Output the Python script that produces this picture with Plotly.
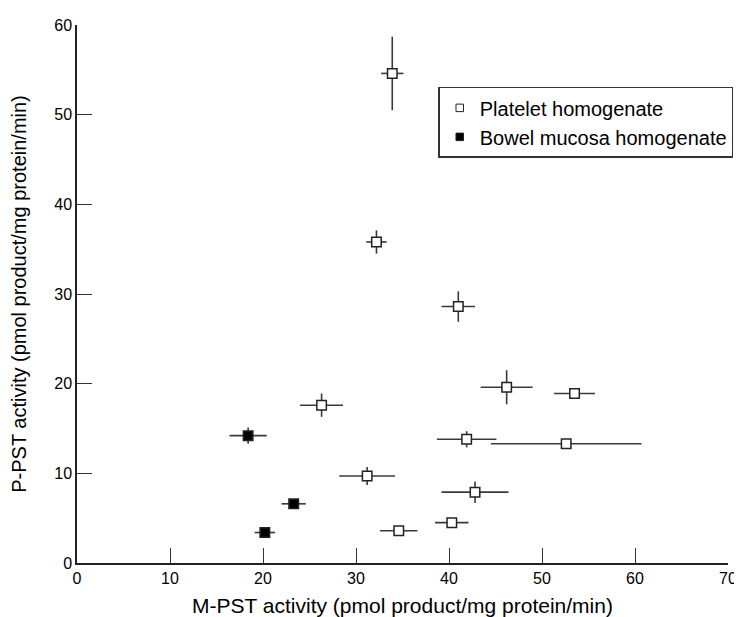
import plotly.graph_objects as go

plate_x = [33.9, 32.2, 41.0, 46.2, 53.5, 26.3, 41.9, 52.6, 31.2, 42.8, 34.6, 40.3]
plate_y = [54.6, 35.8, 28.6, 19.6, 18.9, 17.6, 13.8, 13.3, 9.7, 7.9, 3.6, 4.5]
plate_xerr = [1.2, 1.1, 1.8, 2.8, 2.2, 2.3, 3.2, 8.1, 3.0, 3.6, 2.0, 1.8]
plate_yerr = [4.1, 1.3, 1.7, 1.9, 0.6, 1.3, 0.9, 0.2, 1.0, 1.2, 0.4, 0.2]

bowel_x = [18.4, 23.3, 20.2]
bowel_y = [14.2, 6.6, 3.4]
bowel_xerr = [2.0, 1.3, 1.1]
bowel_yerr = [0.9, 0.4, 0.4]

x_ticks = [0, 10, 20, 30, 40, 50, 60, 70]
y_ticks = [0, 10, 20, 30, 40, 50, 60]

series_names = ["Platelet homogenate", "Bowel mucosa homogenate"]

FONT = "Liberation Sans, Arial, sans-serif"
ERR = "#3a3a3a"

fig = go.Figure()
fig.add_trace(go.Scatter(
    x=plate_x, y=plate_y, mode="markers", name=series_names[0], showlegend=False,
    marker=dict(symbol="square", size=9.5, color="white", line=dict(color="#222", width=1.5)),
    error_x=dict(type="data", array=plate_xerr, color=ERR, thickness=1.6, width=0),
    error_y=dict(type="data", array=plate_yerr, color=ERR, thickness=1.6, width=0),
))
fig.add_trace(go.Scatter(
    x=bowel_x, y=bowel_y, mode="markers", name=series_names[1], showlegend=False,
    marker=dict(symbol="square", size=9.5, color="black", line=dict(color="#222", width=1.5)),
    error_x=dict(type="data", array=bowel_xerr, color=ERR, thickness=1.6, width=0),
    error_y=dict(type="data", array=bowel_yerr, color=ERR, thickness=1.6, width=0),
))
# legend-only entries with smaller symbols, as in the reference legend
fig.add_trace(go.Scatter(
    x=[None], y=[None], mode="markers", name=series_names[0],
    marker=dict(symbol="square", size=7.5, color="white", line=dict(color="#222", width=1)),
))
fig.add_trace(go.Scatter(
    x=[None], y=[None], mode="markers", name=series_names[1],
    marker=dict(symbol="square", size=7.5, color="black", line=dict(color="#222", width=1)),
))

fig.update_layout(
    width=734, height=609,
    margin=dict(l=69, r=9, t=17, b=54),
    plot_bgcolor="white", paper_bgcolor="white",
    font=dict(family=FONT, color="black", size=16),
    showlegend=True,
    legend=dict(
        x=0.5549, y=0.885, xanchor="left", yanchor="top",
        bordercolor="#333", borderwidth=1.5, bgcolor="white",
        font=dict(size=20, family=FONT), tracegroupgap=0, itemwidth=30,
    ),
)
fig.update_xaxes(
    range=[0, 70], tickvals=x_ticks, ticktext=[str(v) for v in x_ticks],
    ticks="inside", ticklen=15, tickcolor="#333", tickwidth=1,
    showline=True, linecolor="#222", linewidth=1.5, showgrid=False, zeroline=False,
    automargin=False,
    title=dict(text="M-PST activity (pmol product/mg protein/min)", font=dict(size=21)),
    tickfont=dict(size=16),
)
fig.update_yaxes(
    range=[0, 60], tickvals=y_ticks, ticktext=[str(v) for v in y_ticks],
    ticks="inside", ticklen=15, tickcolor="#333", tickwidth=1,
    showline=True, linecolor="#222", linewidth=1.5, showgrid=False, zeroline=False,
    automargin=False,
    title=dict(text="P-PST activity (pmol product/mg protein/min)", font=dict(size=20), standoff=22),
    tickfont=dict(size=16),
)

fig.write_html("out.html")
